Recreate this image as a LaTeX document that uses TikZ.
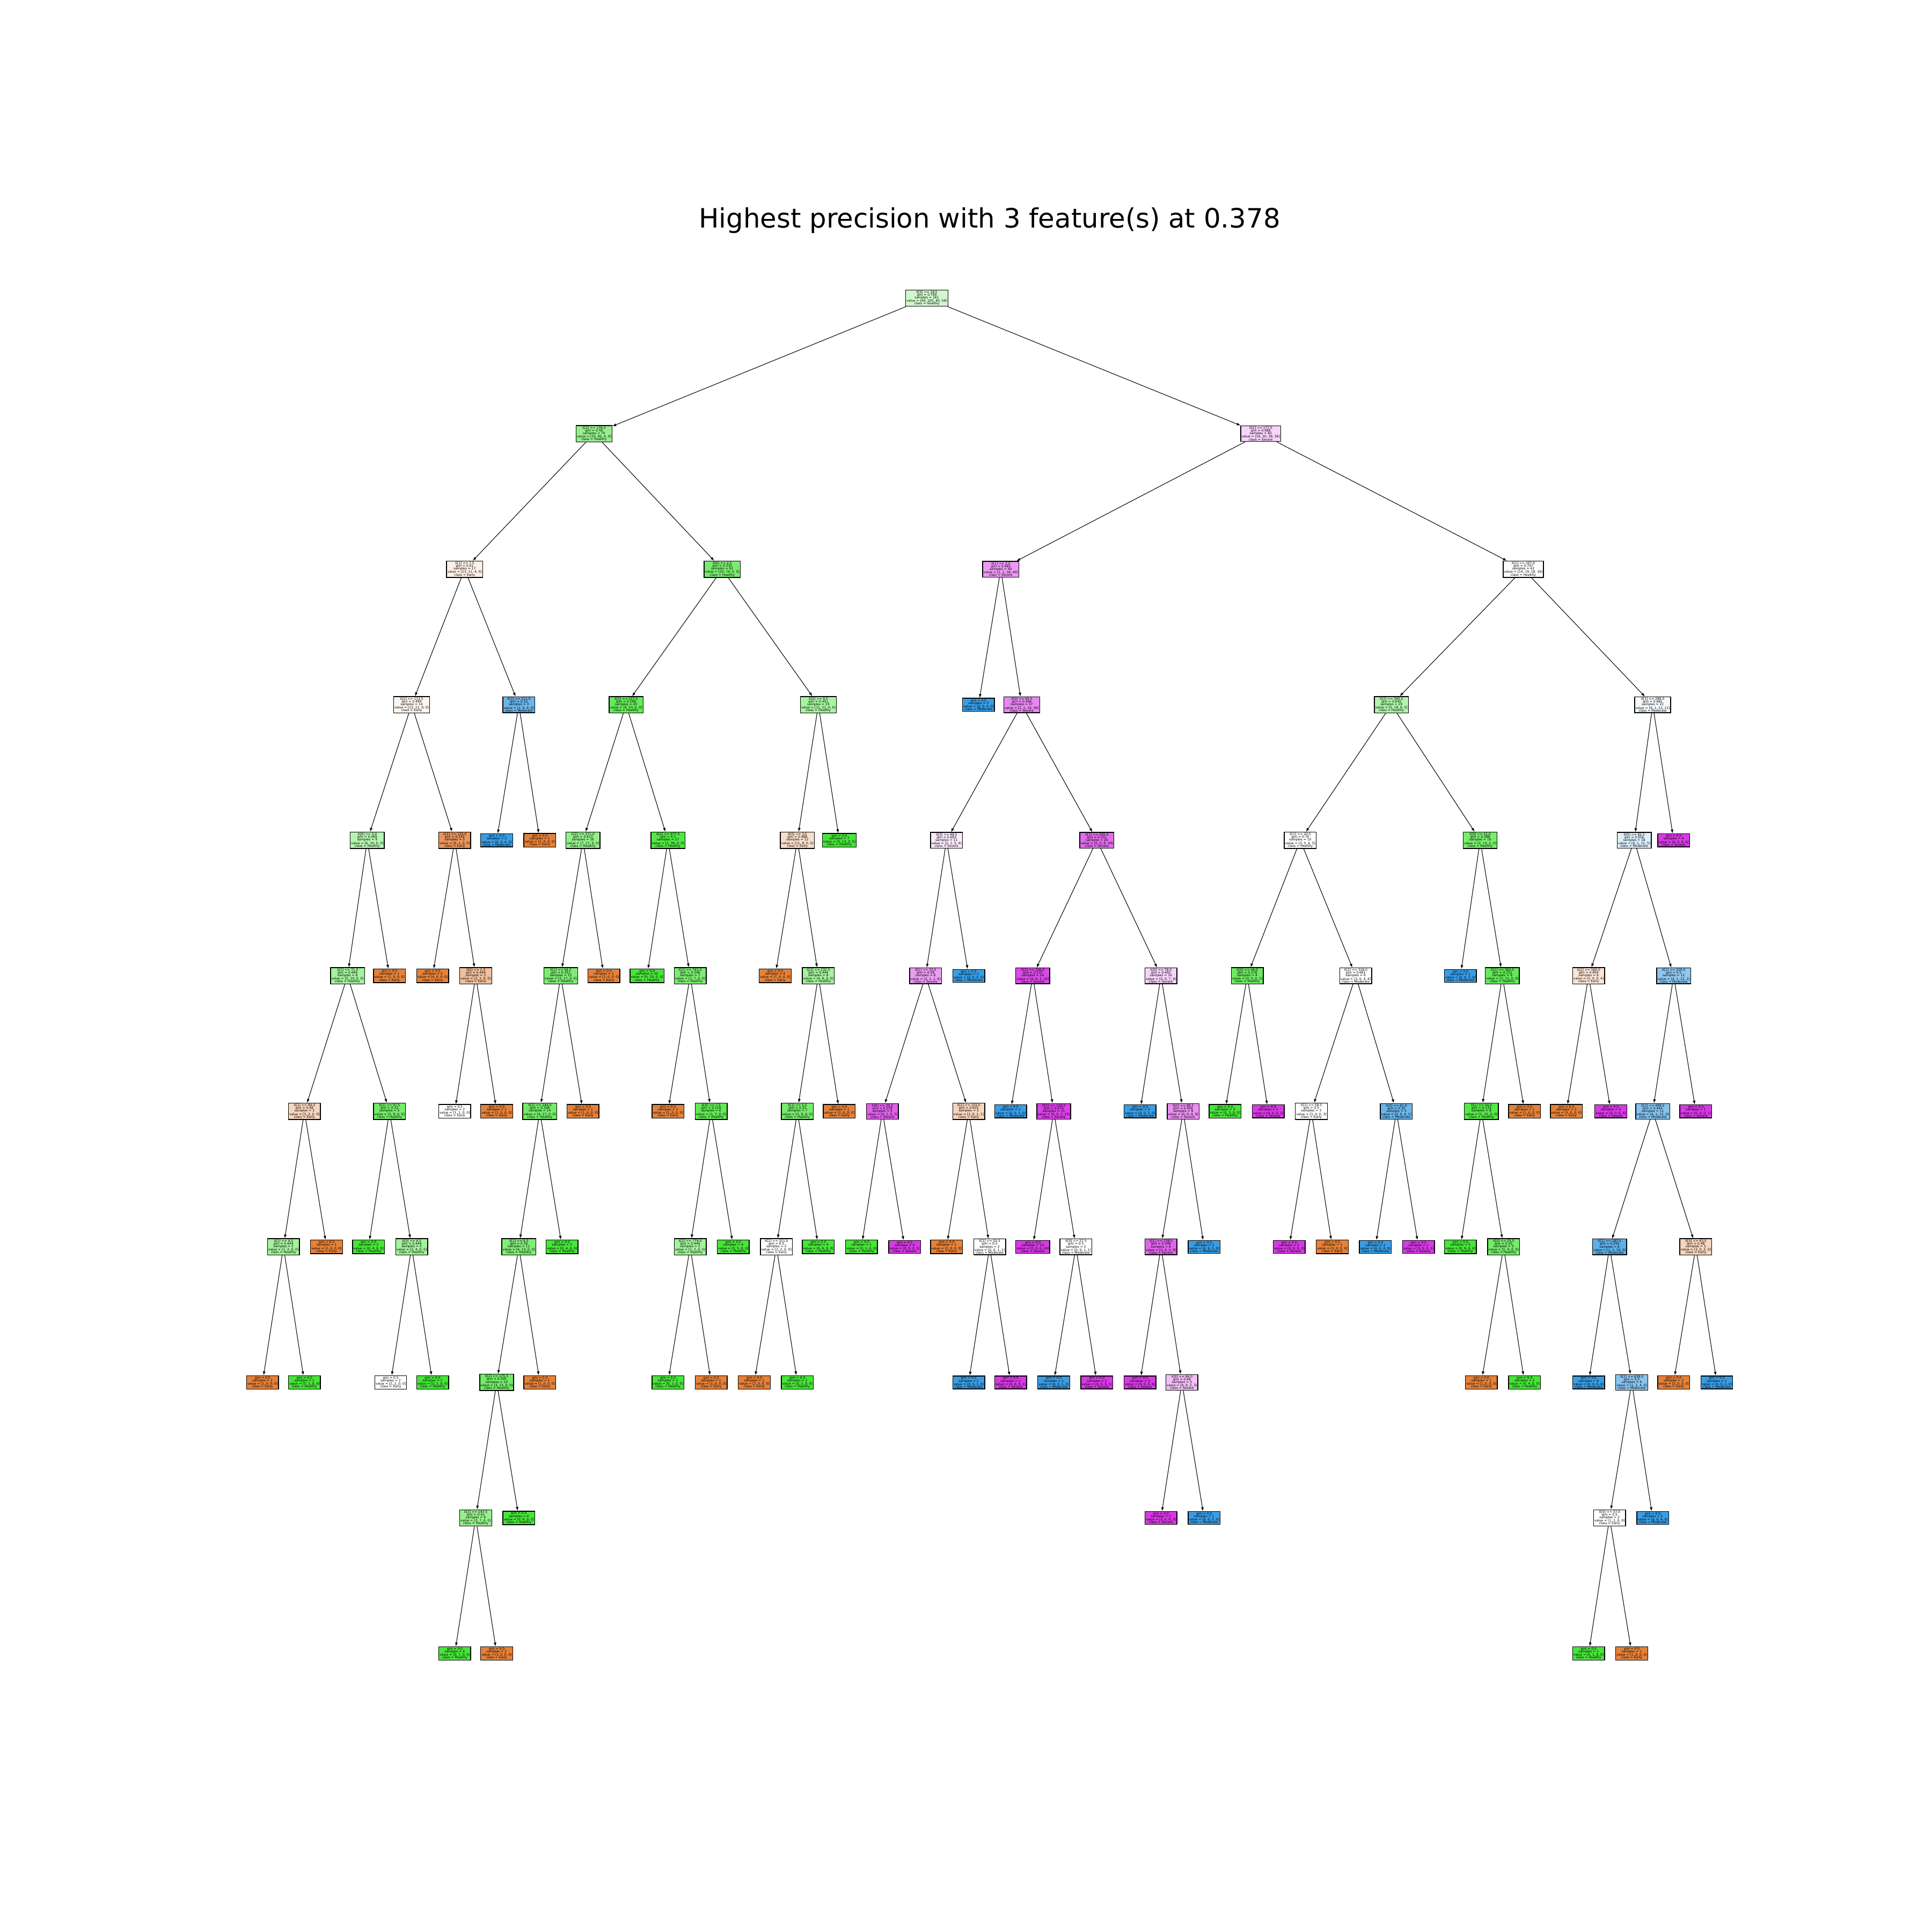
\documentclass[tikz,border=0pt]{standalone}
\usepackage{fontspec}
\setmainfont{DejaVu Sans}
\usetikzlibrary{arrows.meta}
\definecolor{cls0}{RGB}{229,129,57}
\definecolor{cls1}{RGB}{71,229,57}
\definecolor{cls2}{RGB}{57,157,229}
\definecolor{cls3}{RGB}{215,57,229}
\newcommand\treefont{\fontsize{1.7}{1.45}\selectfont\lineskiplimit=-5pt\relax\lineskip=0pt\relax}
\tikzset{
  tn/.style={draw, line width=0.4pt, rectangle, align=center, inner xsep=0.45pt, inner ysep=0.45pt,
    font={\treefont}},
  edge/.style={line width=0.3pt, -{Latex[length=2pt,width=1.5pt]}},
  titlestyle/.style={font={\fontsize{14.15}{16}\selectfont}, inner sep=0pt}
}
% #1 name, #2 x (reference px), #3 depth, #4 split, #5 samples, #6-#9 value
\newcommand\tnode[9]{%
  \edef\vT{\fpeval{#6+#7+#8+#9}}%
  \edef\vG{\fpeval{round(1-((#6)^2+(#7)^2+(#8)^2+(#9)^2)/((\vT)^2),3)}}%
  \edef\vGs{\ifdim\vG pt=0pt 0.0\else\vG\fi}%
  \edef\vM{\fpeval{max(#6,#7,#8,#9)}}%
  \edef\vS{\fpeval{max(min(#6,#7),min(#6,#8),min(#6,#9),min(#7,#8),min(#7,#9),min(#8,#9))}}%
  \edef\vI{\fpeval{(#6>=\vM)?0:((#7>=\vM)?1:((#8>=\vM)?2:3))}}%
  \edef\vP{\fpeval{round(100*(\vM-\vS)/(\vT-\vS))}}%
  \edef\vC{\ifcase\vI\space Early\or Healthy\or Moderate\else Severe\fi}%
  \colorlet{nfill}{cls\vI!\vP!white}%
  \if\relax\detokenize{#4}\relax\def\nsplit{}\else\def\nsplit{#4\\}\fi
  \node[tn, fill=nfill] (#1) at ({#2*0.022959},{30.444-2.5254*#3}) {%
    \nsplit gini = \vGs\\samples = #5\\[0.3pt]value = [#6, #7, #8, #9]\\class = \vC};%
}
\begin{document}
\begin{tikzpicture}
\fill[white] (0,0) rectangle (36,36);
\useasboundingbox (0,0) rectangle (36,36);
\node[titlestyle] (title) at (18.44,31.89) {Highest precision with 3 feature(s) at 0.378};

% depth 0-2
\tnode{r}{752}{0}{X[0] <= 18.5}{161}{49}{105}{40}{56}
\tnode{A}{482}{1}{X[2] <= 139.0}{79}{33}{85}{4}{0}
\tnode{B}{1023}{1}{X[2] <= 177.5}{82}{16}{20}{36}{56}
\tnode{AA}{377}{2}{X[1] <= 7.5}{17}{13}{11}{4}{0}
\tnode{AB}{586}{2}{X[0] <= 2.5}{62}{20}{74}{0}{0}
\tnode{BA}{812}{2}{X[1] <= 2.0}{40}{2}{1}{18}{40}
\tnode{BB}{1236}{2}{X[1] <= 107.0}{42}{14}{19}{18}{16}
% depth 3
\tnode{AAA}{334}{3}{X[2] <= 113.5}{14}{12}{11}{0}{0}
\tnode{AAB}{421}{3}{X[2] <= 111.5}{3}{1}{0}{4}{0}
\tnode{ABA}{508}{3}{X[2] <= 257.5}{43}{9}{53}{0}{0}
\tnode{ABB}{664}{3}{X[0] <= 9.5}{19}{11}{21}{0}{0}
\tnode{BAA}{794}{3}{}{3}{0}{0}{4}{0}
\tnode{BAB}{829}{3}{X[0] <= 65.5}{37}{2}{1}{14}{40}
\tnode{BBA}{1129}{3}{X[2] <= 390.0}{20}{5}{18}{6}{5}
\tnode{BBB}{1341}{3}{X[1] <= 289.5}{22}{9}{1}{12}{11}
% depth 4
\tnode{AAAA}{298}{4}{X[0] <= 5.0}{9}{6}{10}{0}{0}
\tnode{AAAB}{369}{4}{X[2] <= 133.0}{5}{6}{1}{0}{0}
\tnode{AABA}{403}{4}{}{2}{0}{0}{4}{0}
\tnode{AABB}{438}{4}{}{1}{1}{0}{0}{0}
\tnode{ABAA}{473}{4}{X[2] <= 271.0}{16}{7}{17}{0}{0}
\tnode{ABAB}{542}{4}{X[2] <= 677.0}{27}{2}{36}{0}{0}
\tnode{ABBA}{647}{4}{X[0] <= 3.5}{12}{11}{8}{0}{0}
\tnode{ABBB}{681}{4}{}{7}{0}{13}{0}{0}
\tnode{BABA}{768}{4}{X[0] <= 48.5}{11}{2}{1}{5}{6}
\tnode{BABB}{890}{4}{X[1] <= 205.0}{26}{0}{0}{9}{34}
\tnode{BBAA}{1055}{4}{X[1] <= 20.5}{10}{3}{5}{4}{5}
\tnode{BBAB}{1201}{4}{X[0] <= 21.0}{10}{2}{13}{2}{0}
\tnode{BBBA}{1326}{4}{X[0] <= 82.5}{18}{9}{1}{12}{5}
\tnode{BBBB}{1358}{4}{}{4}{0}{0}{0}{6}
% depth 5
\tnode{n5a}{282}{5}{X[2] <= 71.0}{8}{5}{10}{0}{0}
\tnode{n5b}{316}{5}{}{1}{1}{0}{0}{0}
\tnode{n5c}{351}{5}{}{2}{4}{0}{0}{0}
\tnode{n5d}{386}{5}{X[0] <= 1.0}{3}{2}{1}{0}{0}
\tnode{n5e}{455}{5}{X[1] <= 54.5}{15}{5}{17}{0}{0}
\tnode{n5f}{490}{5}{}{1}{2}{0}{0}{0}
\tnode{n5g}{525}{5}{}{20}{0}{29}{0}{0}
\tnode{n5h}{560}{5}{X[2] <= 741.0}{7}{2}{7}{0}{0}
\tnode{n5i}{629}{5}{}{4}{7}{0}{0}{0}
\tnode{n5j}{664}{5}{X[2] <= 232.5}{8}{4}{8}{0}{0}
\tnode{n5k}{751}{5}{X[1] <= 33.0}{8}{2}{1}{1}{6}
\tnode{n5l}{786}{5}{}{3}{0}{0}{4}{0}
\tnode{n5m}{838}{5}{X[2] <= 226.0}{16}{0}{0}{2}{25}
\tnode{n5n}{942}{5}{X[0] <= 79.0}{10}{0}{0}{7}{9}
\tnode{n5o}{1012}{5}{X[0] <= 44.0}{4}{0}{5}{0}{1}
\tnode{n5p}{1100}{5}{X[2] <= 318.0}{6}{3}{0}{4}{4}
\tnode{n5q}{1185}{5}{}{1}{0}{0}{2}{0}
\tnode{n5r}{1219}{5}{X[2] <= 363.5}{9}{2}{13}{0}{0}
\tnode{n5s}{1289}{5}{X[2] <= 560.0}{6}{5}{0}{0}{4}
\tnode{n5t}{1358}{5}{X[1] <= 229.0}{12}{4}{1}{12}{1}
% depth 6
\tnode{n6a}{247}{6}{X[2] <= 84.0}{3}{3}{2}{0}{0}
\tnode{n6b}{316}{6}{X[2] <= 97.5}{5}{2}{8}{0}{0}
\tnode{n6c}{369}{6}{}{2}{1}{1}{0}{0}
\tnode{n6d}{403}{6}{}{1}{1}{0}{0}{0}
\tnode{n6e}{438}{6}{X[2] <= 244.0}{14}{4}{17}{0}{0}
\tnode{n6f}{473}{6}{}{1}{1}{0}{0}{0}
\tnode{n6g}{542}{6}{}{1}{1}{0}{0}{0}
\tnode{n6h}{577}{6}{X[0] <= 7.5}{6}{1}{7}{0}{0}
\tnode{n6i}{647}{6}{X[1] <= 5.5}{7}{2}{8}{0}{0}
\tnode{n6j}{681}{6}{}{1}{2}{0}{0}{0}
\tnode{n6k}{716}{6}{X[0] <= 35.5}{5}{0}{1}{0}{5}
\tnode{n6l}{786}{6}{X[2] <= 155.0}{3}{2}{0}{1}{1}
\tnode{n6m}{820}{6}{}{1}{0}{0}{1}{0}
\tnode{n6n}{855}{6}{X[2] <= 129.0}{15}{0}{0}{1}{25}
\tnode{n6o}{925}{6}{}{2}{0}{0}{3}{0}
\tnode{n6p}{960}{6}{X[0] <= 88.5}{8}{0}{0}{4}{9}
\tnode{n6q}{994}{6}{}{3}{0}{5}{0}{0}
\tnode{n6r}{1029}{6}{}{1}{0}{0}{0}{1}
\tnode{n6s}{1064}{6}{X[1] <= 58.5}{3}{3}{0}{0}{3}
\tnode{n6t}{1133}{6}{X[0] <= 61.0}{3}{0}{0}{4}{1}
\tnode{n6u}{1202}{6}{X[1] <= 54.0}{8}{1}{13}{0}{0}
\tnode{n6v}{1237}{6}{}{1}{1}{0}{0}{0}
\tnode{n6w}{1271}{6}{}{3}{5}{0}{0}{0}
\tnode{n6x}{1307}{6}{}{3}{0}{0}{0}{4}
\tnode{n6y}{1341}{6}{X[2] <= 499.0}{11}{4}{1}{12}{0}
\tnode{n6z}{1376}{6}{}{1}{0}{0}{0}{1}
% depth 7
\tnode{n7a}{230}{7}{X[1] <= 4.5}{2}{1}{2}{0}{0}
\tnode{n7b}{265}{7}{}{1}{2}{0}{0}{0}
\tnode{n7c}{299}{7}{}{2}{0}{4}{0}{0}
\tnode{n7d}{334}{7}{X[0] <= 4.5}{3}{2}{4}{0}{0}
\tnode{n7e}{421}{7}{X[1] <= 6.5}{11}{4}{13}{0}{0}
\tnode{n7f}{456}{7}{}{3}{0}{4}{0}{0}
\tnode{n7g}{560}{7}{X[2] <= 776.0}{2}{1}{2}{0}{0}
\tnode{n7h}{595}{7}{}{4}{0}{5}{0}{0}
\tnode{n7i}{630}{7}{X[2] <= 151.0}{3}{2}{2}{0}{0}
\tnode{n7j}{664}{7}{}{4}{0}{6}{0}{0}
\tnode{n7k}{699}{7}{}{1}{0}{1}{0}{0}
\tnode{n7l}{734}{7}{}{4}{0}{0}{0}{5}
\tnode{n7m}{768}{7}{}{1}{2}{0}{0}{0}
\tnode{n7n}{803}{7}{X[1] <= 55.5}{2}{0}{0}{1}{1}
\tnode{n7o}{838}{7}{}{13}{0}{0}{0}{24}
\tnode{n7p}{873}{7}{X[0] <= 57.5}{2}{0}{0}{1}{1}
\tnode{n7q}{942}{7}{X[1] <= 139.5}{6}{0}{0}{2}{9}
\tnode{n7r}{977}{7}{}{2}{0}{0}{2}{0}
\tnode{n7s}{1046}{7}{}{2}{0}{0}{0}{3}
\tnode{n7t}{1081}{7}{}{1}{3}{0}{0}{0}
\tnode{n7u}{1116}{7}{}{2}{0}{0}{4}{0}
\tnode{n7v}{1151}{7}{}{1}{0}{0}{0}{1}
\tnode{n7w}{1185}{7}{}{5}{0}{9}{0}{0}
\tnode{n7x}{1220}{7}{X[0] <= 25.5}{3}{1}{4}{0}{0}
\tnode{n7y}{1306}{7}{X[1] <= 187.5}{8}{1}{1}{10}{0}
\tnode{n7z}{1376}{7}{X[0] <= 43.5}{3}{3}{0}{2}{0}
% depth 8
\tnode{n8a}{213}{8}{}{1}{1}{0}{0}{0}
\tnode{n8b}{247}{8}{}{1}{0}{2}{0}{0}
\tnode{n8c}{317}{8}{}{2}{2}{2}{0}{0}
\tnode{n8d}{351}{8}{}{1}{0}{2}{0}{0}
\tnode{n8e}{403}{8}{X[2] <= 175.5}{10}{3}{13}{0}{0}
\tnode{n8f}{438}{8}{}{1}{1}{0}{0}{0}
\tnode{n8g}{542}{8}{}{1}{0}{2}{0}{0}
\tnode{n8h}{577}{8}{}{1}{1}{0}{0}{0}
\tnode{n8i}{612}{8}{}{1}{2}{0}{0}{0}
\tnode{n8j}{647}{8}{}{2}{0}{2}{0}{0}
\tnode{n8k}{786}{8}{}{1}{0}{0}{1}{0}
\tnode{n8l}{820}{8}{}{1}{0}{0}{0}{1}
\tnode{n8m}{855}{8}{}{1}{0}{0}{1}{0}
\tnode{n8n}{890}{8}{}{1}{0}{0}{0}{1}
\tnode{n8o}{925}{8}{}{3}{0}{0}{0}{6}
\tnode{n8p}{959}{8}{X[0] <= 84.0}{3}{0}{0}{2}{3}
\tnode{n8q}{1202}{8}{}{1}{1}{0}{0}{0}
\tnode{n8r}{1237}{8}{}{2}{0}{4}{0}{0}
\tnode{n8s}{1289}{8}{}{4}{0}{0}{6}{0}
\tnode{n8t}{1324}{8}{X[2] <= 638.5}{4}{1}{1}{4}{0}
\tnode{n8u}{1358}{8}{}{2}{3}{0}{0}{0}
\tnode{n8v}{1393}{8}{}{1}{0}{0}{2}{0}
% depth 9
\tnode{n9a}{386}{9}{X[2] <= 147.5}{6}{3}{7}{0}{0}
\tnode{n9b}{421}{9}{}{4}{0}{6}{0}{0}
\tnode{n9c}{942}{9}{}{2}{0}{0}{0}{3}
\tnode{n9d}{977}{9}{}{1}{0}{0}{2}{0}
\tnode{n9e}{1306}{9}{X[0] <= 37.0}{2}{1}{1}{0}{0}
\tnode{n9f}{1341}{9}{}{2}{0}{0}{4}{0}
% depth 10
\tnode{n10a}{369}{10}{}{4}{0}{7}{0}{0}
\tnode{n10b}{403}{10}{}{2}{3}{0}{0}{0}
\tnode{n10c}{1289}{10}{}{1}{0}{1}{0}{0}
\tnode{n10d}{1324}{10}{}{1}{1}{0}{0}{0}

% edges
\foreach \p/\c in {r/A, r/B, A/AA, A/AB, B/BA, B/BB,
  AA/AAA, AA/AAB, AB/ABA, AB/ABB, BA/BAA, BA/BAB, BB/BBA, BB/BBB,
  AAA/AAAA, AAA/AAAB, AAB/AABA, AAB/AABB, ABA/ABAA, ABA/ABAB, ABB/ABBA, ABB/ABBB,
  BAB/BABA, BAB/BABB, BBA/BBAA, BBA/BBAB, BBB/BBBA, BBB/BBBB,
  AAAA/n5a, AAAA/n5b, AAAB/n5c, AAAB/n5d, ABAA/n5e, ABAA/n5f, ABAB/n5g, ABAB/n5h,
  ABBA/n5i, ABBA/n5j, BABA/n5k, BABA/n5l, BABB/n5m, BABB/n5n, BBAA/n5o, BBAA/n5p,
  BBAB/n5q, BBAB/n5r, BBBA/n5s, BBBA/n5t,
  n5a/n6a, n5a/n6b, n5d/n6c, n5d/n6d, n5e/n6e, n5e/n6f, n5h/n6g, n5h/n6h,
  n5j/n6i, n5j/n6j, n5k/n6k, n5k/n6l, n5m/n6m, n5m/n6n, n5n/n6o, n5n/n6p,
  n5o/n6q, n5o/n6r, n5p/n6s, n5p/n6t, n5r/n6u, n5r/n6v, n5s/n6w, n5s/n6x, n5t/n6y, n5t/n6z,
  n6a/n7a, n6a/n7b, n6b/n7c, n6b/n7d, n6e/n7e, n6e/n7f, n6h/n7g, n6h/n7h,
  n6i/n7i, n6i/n7j, n6k/n7k, n6k/n7l, n6l/n7m, n6l/n7n, n6n/n7o, n6n/n7p,
  n6p/n7q, n6p/n7r, n6s/n7s, n6s/n7t, n6t/n7u, n6t/n7v, n6u/n7w, n6u/n7x, n6y/n7y, n6y/n7z,
  n7a/n8a, n7a/n8b, n7d/n8c, n7d/n8d, n7e/n8e, n7e/n8f, n7g/n8g, n7g/n8h,
  n7i/n8i, n7i/n8j, n7n/n8k, n7n/n8l, n7p/n8m, n7p/n8n, n7q/n8o, n7q/n8p,
  n7x/n8q, n7x/n8r, n7y/n8s, n7y/n8t, n7z/n8u, n7z/n8v,
  n8e/n9a, n8e/n9b, n8p/n9c, n8p/n9d, n8t/n9e, n8t/n9f,
  n9a/n10a, n9a/n10b, n9e/n10c, n9e/n10d}
  \draw[edge] (\p) -- (\c);
\end{tikzpicture}
\end{document}
